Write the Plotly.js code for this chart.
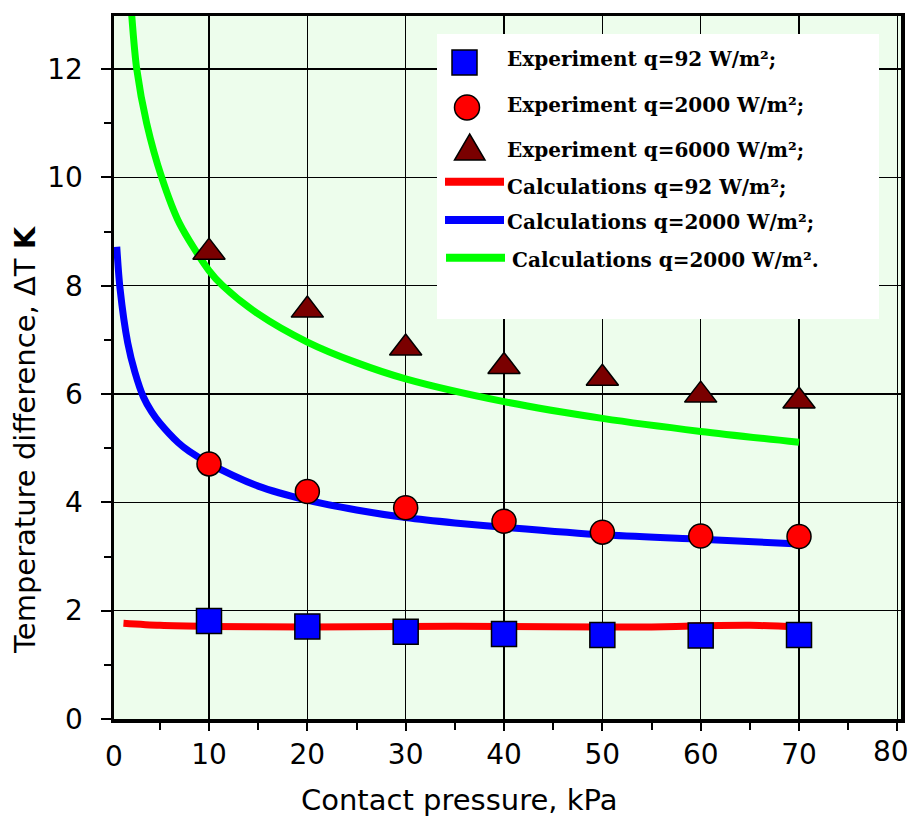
<!DOCTYPE html>
<html>
<head>
<meta charset="utf-8">
<script src="https://cdn.plot.ly/plotly-3.0.1.min.js"></script>
<style>html,body{margin:0;padding:0;background:#fff;}#chart{width:912px;height:818px;}</style>
</head>
<body>
<div id="chart"></div>
<script>
// ---- Data ----
const pressure = [10, 20, 30, 40, 50, 60, 70];
const exp92 = [1.81, 1.71, 1.61, 1.57, 1.55, 1.54, 1.55];
const exp2000 = [4.71, 4.20, 3.90, 3.65, 3.45, 3.38, 3.37];
const exp6000 = [8.62, 7.55, 6.85, 6.51, 6.29, 5.98, 5.87];

const calc92X = [1.3, 5, 10, 20, 30, 40, 50, 55, 60, 65, 70];
const calc92Y = [1.77, 1.73, 1.71, 1.70, 1.71, 1.71, 1.70, 1.70, 1.72, 1.73, 1.70];

const calc2000X = [0.62, 0.95, 1.73, 2.47, 3.32, 4.17, 5.02, 6.88, 8, 10, 15, 20, 25, 30, 35, 40, 50, 60, 70];
const calc2000Y = [8.72, 7.95, 6.95, 6.40, 5.95, 5.67, 5.46, 5.10, 4.94, 4.72, 4.30, 4.04, 3.86, 3.72, 3.62, 3.54, 3.40, 3.32, 3.23];

const calc6000X = [2.14, 2.65, 3.66, 5.19, 7, 10, 11.4, 15, 20, 25, 30, 40, 50, 60, 70];
const calc6000Y = [13.0, 12.0, 11.0, 10.0, 9.15, 8.28, 8.0, 7.48, 6.96, 6.58, 6.28, 5.86, 5.55, 5.31, 5.11];

const xTicks = [10, 20, 30, 40, 50, 60, 70, 80];
const yTicks = [0, 2, 4, 6, 8, 10, 12];

const legendLabels = [
  'Experiment q=92 W/m²;',
  'Experiment q=2000 W/m²;',
  'Experiment q=6000 W/m²;',
  'Calculations q=92 W/m²;',
  'Calculations q=2000 W/m²;',
  'Calculations q=2000 W/m².'
];

// ---- Layout helpers (pixel -> paper) ----
const L = 114, R = 901, T = 16, B = 719;
const px = x => (x - L) / (R - L);
const py = y => (B - y) / (B - T);

const traces = [
  {x: calc92X, y: calc92Y, mode: 'lines', line: {color: '#FF0000', width: 7, shape: 'spline', smoothing: 0.8}, showlegend: false, name: legendLabels[3]},
  {x: calc2000X, y: calc2000Y, mode: 'lines', line: {color: '#0000FF', width: 7, shape: 'spline', smoothing: 0.8}, showlegend: false, name: legendLabels[4]},
  {x: calc6000X, y: calc6000Y, mode: 'lines', line: {color: '#00FF00', width: 7, shape: 'spline', smoothing: 0.8}, showlegend: false, name: legendLabels[5]},
  {x: pressure, y: exp92, mode: 'markers', marker: {symbol: 'square', size: 25, color: '#0000FF', line: {color: '#000', width: 1.5}}, showlegend: false, name: legendLabels[0]},
  {x: pressure, y: exp2000, mode: 'markers', marker: {symbol: 'circle', size: 24, color: '#FF0000', line: {color: '#000', width: 1.5}}, showlegend: false, name: legendLabels[1]},
  {x: pressure, y: exp6000, mode: 'markers', marker: {symbol: 'triangle-up', size: 28, color: '#7A0000', line: {color: '#000', width: 1.5}}, showlegend: false, name: legendLabels[2]}
];

const rowY = [59.5, 105, 150, 186.5, 222.5, 259.5];
const rowX = [505, 505, 505, 505, 505, 510];
const legFont = {family: 'DejaVu Serif, serif', size: 20, color: '#000'};
const sansFont = 'DejaVu Sans, Arial, sans-serif';

const annotations = legendLabels.map((t, i) => ({
  xref: 'paper', yref: 'paper', x: px(rowX[i]), y: py(rowY[i]),
  xanchor: 'left', yanchor: 'middle', text: '<b>' + t + '</b>', showarrow: false, font: legFont
}));
annotations.push({xref: 'paper', yref: 'paper', x: px(114), y: py(757), xanchor: 'center', yanchor: 'middle',
  text: '0', showarrow: false, font: {family: sansFont, size: 28, color: '#000'}});
annotations.push({xref: 'paper', yref: 'paper', x: px(891), y: py(752), xanchor: 'center', yanchor: 'middle',
  text: '80', showarrow: false, font: {family: sansFont, size: 28, color: '#000'}});
annotations.push({xref: 'paper', yref: 'paper', x: px(459), y: py(800), xanchor: 'center', yanchor: 'middle',
  text: 'Contact pressure, kPa', showarrow: false, font: {family: sansFont, size: 29, color: '#000'}});
annotations.push({xref: 'paper', yref: 'paper', x: px(25), y: py(440), xanchor: 'center', yanchor: 'middle', textangle: -90,
  text: 'Temperature difference, ΔT <b>K</b>', showarrow: false, font: {family: sansFont, size: 29, color: '#000'}});

const shapes = [
  {type: 'rect', xref: 'paper', yref: 'paper', x0: px(437), x1: px(879), y0: py(319), y1: py(34), fillcolor: '#FFFFFF', line: {width: 0}, layer: 'above'},
  {type: 'rect', xref: 'paper', yref: 'paper', x0: px(452), x1: px(477), y0: py(75), y1: py(50), fillcolor: '#0000FF', line: {color: '#000', width: 1.5}, layer: 'above'},
  {type: 'circle', xref: 'paper', yref: 'paper', x0: px(454.5), x1: px(479.5), y0: py(120), y1: py(95), fillcolor: '#FF0000', line: {color: '#000', width: 1.5}, layer: 'above'},
  {type: 'path', xref: 'paper', yref: 'paper',
   path: 'M' + px(454.5) + ',' + py(160) + ' L' + px(485) + ',' + py(160) + ' L' + px(469.7) + ',' + py(134) + ' Z',
   fillcolor: '#7A0000', line: {color: '#000', width: 1.5}, layer: 'above'},
  {type: 'line', xref: 'paper', yref: 'paper', x0: px(445), x1: px(504), y0: py(181.7), y1: py(181.7), line: {color: '#FF0000', width: 8}, layer: 'above'},
  {type: 'line', xref: 'paper', yref: 'paper', x0: px(445), x1: px(504), y0: py(220), y1: py(220), line: {color: '#0000FF', width: 8}, layer: 'above'},
  {type: 'line', xref: 'paper', yref: 'paper', x0: px(446), x1: px(505), y0: py(257.7), y1: py(257.7), line: {color: '#00FF00', width: 8}, layer: 'above'}
];

const tickFont = {family: sansFont, size: 28, color: '#000'};

const layout = {
  width: 912, height: 818,
  margin: {l: L, r: 912 - R, t: T, b: 818 - B, pad: 0},
  paper_bgcolor: '#FFFFFF',
  plot_bgcolor: '#EDFDEC',
  showlegend: false,
  xaxis: {
    range: [0.339, 80.37], tickvals: xTicks, ticktext: xTicks.map(v => v === 80 ? '' : String(v)),
    ticks: 'outside', ticklen: 8, tickwidth: 2, tickcolor: '#000',
    minor: {tickvals: [5, 15, 25, 35, 45, 55, 65, 75], ticks: 'outside', ticklen: 7, tickwidth: 2, tickcolor: '#000', showgrid: false},
    showgrid: true, gridcolor: '#000', gridwidth: 1.5,
    showline: true, linecolor: '#000', linewidth: 3.5, mirror: true,
    zeroline: false, tickfont: tickFont, ticklabelstandoff: 0
  },
  yaxis: {
    range: [0, 12.98], tickvals: yTicks, ticktext: yTicks.map(String),
    ticks: 'outside', ticklen: 10, tickwidth: 2, tickcolor: '#000',
    minor: {tickvals: [1, 3, 5, 7, 9, 11], ticks: 'outside', ticklen: 7, tickwidth: 2, tickcolor: '#000', showgrid: false},
    showgrid: true, gridcolor: '#000', gridwidth: 1.5,
    showline: true, linecolor: '#000', linewidth: 3.5, mirror: true,
    zeroline: false, tickfont: tickFont, ticklabelstandoff: 12
  },
  shapes: shapes,
  annotations: annotations
};

Plotly.newPlot('chart', traces, layout, {staticPlot: true, displayModeBar: false});
</script>
</body>
</html>
